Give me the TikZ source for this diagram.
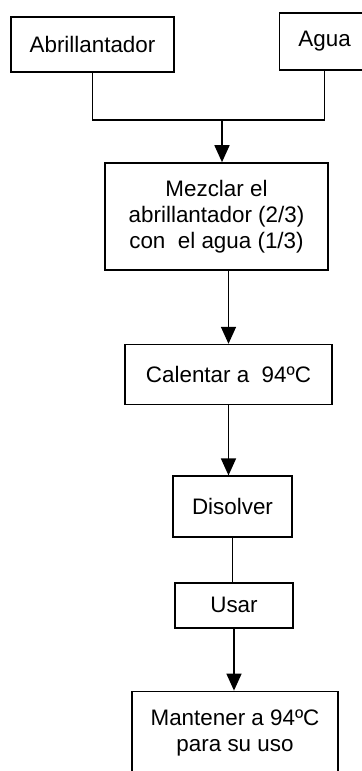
\documentclass[tikz,border=0pt]{standalone}
\usepackage{fontspec}
\setmainfont{Liberation Sans}
\usetikzlibrary{positioning,arrows.meta,calc}
\tikzset{
    procbox/.style={
        rectangle,
        draw=black,
        line width=0.8pt,
        inner sep=0pt,
        align=center,
        font=\fontsize{11.2}{13}\selectfont
    },
    flow/.style={
        -{Triangle[width=7.5pt,length=8.5pt]},
        line width=0.8pt
    },
    link/.style={
        line width=0.8pt
    }
}

\begin{document}
\begin{tikzpicture}
\useasboundingbox (0pt,0pt) rectangle (181pt,-385.5pt);
% inputs
\node[procbox, minimum width=81.5pt, minimum height=27.5pt] (abril) at (46.25pt,-22.25pt) {Abrillantador};
\node[procbox, minimum width=45pt, minimum height=28.5pt, right=52pt of abril, yshift=1.5pt] (agua) {Agua};

% process steps
\node[procbox, minimum width=111.5pt, minimum height=53.5pt] (mezclar) at (108.25pt,-108.25pt) {Mezclar el\\abrillantador (2/3)\\con\ \ el agua (1/3)};
\node[procbox, minimum width=103.5pt, minimum height=30pt, below=36.5pt of mezclar, xshift=6pt] (calentar) {Calentar a\ \ 94ºC};
\node[procbox, minimum width=59.5pt, minimum height=30.5pt, below=35pt of calentar, xshift=2pt] (disolver) {Disolver};
\node[procbox, minimum width=59pt, minimum height=22.5pt, below=22pt of disolver, xshift=0.75pt] (usar) {Usar};
\node[procbox, minimum width=103pt, minimum height=41.5pt, below=31pt of usar, xshift=0.5pt] (mantener) {Mantener a 94ºC\\para su uso};

% connectors
\coordinate (join) at (111pt,-60pt);
\draw[link] (abril.south) |- (join) -| (agua.south);
\draw[flow] (join) -- (join |- mezclar.north);
\draw[flow] (mezclar.south -| calentar.north) -- (calentar.north);
\draw[flow] (calentar.south) -- (calentar.south |- disolver.north);
\draw[link] (disolver.south) -- (disolver.south |- usar.north);
\draw[flow] (usar.south) -- (usar.south |- mantener.north);
\end{tikzpicture}
\end{document}
